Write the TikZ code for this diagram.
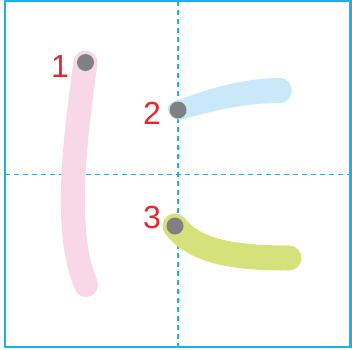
\documentclass[tikz,border=0pt]{standalone}
\usepackage{fontspec}
\setmainfont{Liberation Sans}
\definecolor{framecol}{HTML}{1BB1EA}
\definecolor{pinkstroke}{HTML}{F8D7E7}
\definecolor{bluestroke}{HTML}{C9E9F8}
\definecolor{greenstroke}{HTML}{D5E27B}
\definecolor{numred}{HTML}{E8262D}
\definecolor{dotgray}{HTML}{808083}
\begin{document}
\begin{tikzpicture}[x=1pt,y=-1pt,
  brush/.style={line width=#1, line cap=round},
  num/.style={text=numred, font=\fontsize{32}{32}\selectfont, inner sep=0pt}]
\useasboundingbox (0,0) rectangle (352,349);
% frame and guide lines
\draw[framecol, line width=2.2pt] (5,1) rectangle (350.5,347);
\draw[framecol, line width=1.2pt, dash pattern=on 5pt off 4pt] (178,1) -- (178,347);
\draw[framecol, line width=1.2pt, dash pattern=on 5pt off 4pt] (5,174.5) -- (350.5,174.5);
% start and end points
\coordinate (s1) at (85.5,62.5);
\coordinate (e1) at (86,285);
\coordinate (s2) at (178,110);
\coordinate (s3) at (175,226);
\coordinate (e3) at (289,258);
% strokes
\draw[pinkstroke, brush=24pt] (s1) .. controls (75,140) and (63,230) .. (e1);
\fill[bluestroke] (171,103) .. controls (205,89) and (245,78) .. (279,78)
  .. controls (296,78) and (296,103) .. (279,103)
  .. controls (245,103) and (212,111) .. (184,119)
  .. controls (171,123) and (163,108) .. cycle;
\draw[greenstroke, brush=25pt] (s3) .. controls (195,252) and (235,258) .. (e3);
\fill[dotgray] (s1) circle(8.5);
\fill[dotgray] (s2) circle(8.5);
\fill[dotgray] (s3) circle(8.5);
% order numbers
\node[num] (n1) at (60,66) {1};
\node[num] (n2) at (152,113) {2};
\node[num] (n3) at (152,217) {3};
\end{tikzpicture}
\end{document}
